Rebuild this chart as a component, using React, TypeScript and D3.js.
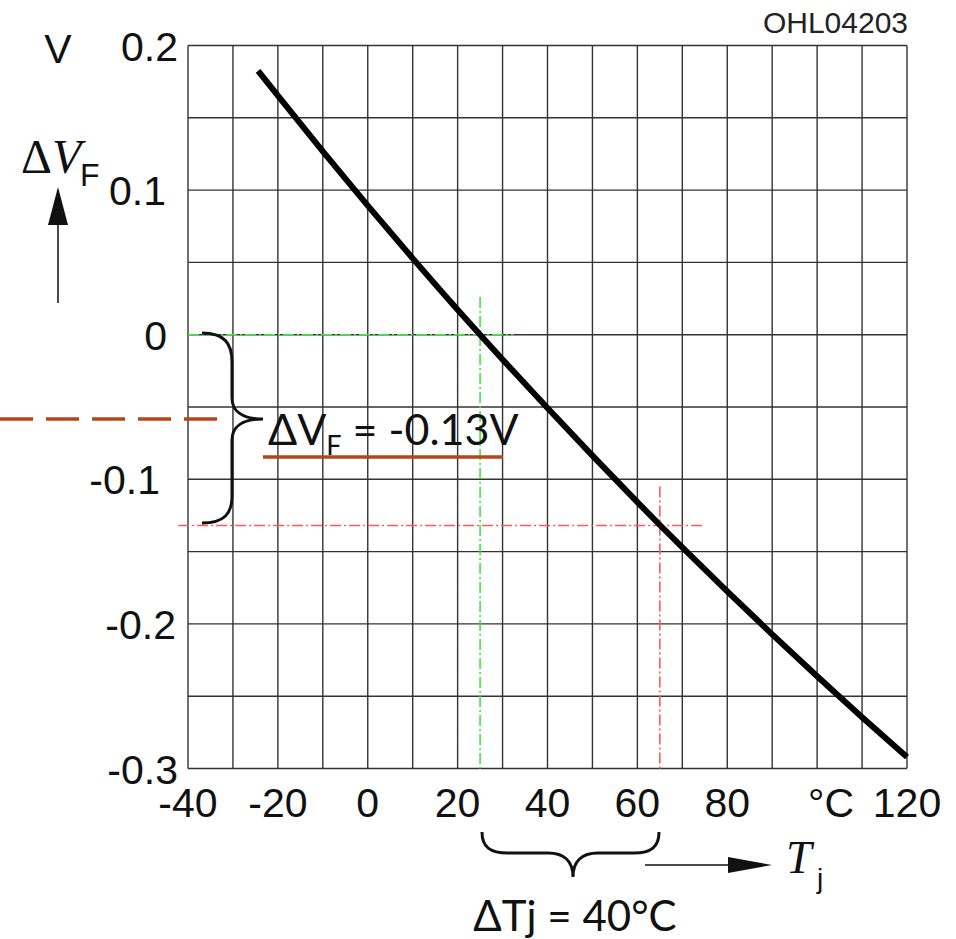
import React from "react";
import * as d3 from "d3";

// ---- data ----
const tempC = [-24.4, -20, -10, 0, 10, 20, 25, 30, 40, 50, 60, 65, 70, 80, 90, 100, 110, 120];
const deltaVF = [0.1825, 0.1653, 0.1268, 0.0893, 0.0528, 0.0173, 0, -0.0171, -0.0507, -0.0836, -0.1158, -0.1316, -0.1471, -0.1775, -0.2072, -0.2362, -0.2645, -0.2921];

const xTickValues = [-40, -20, 0, 20, 40, 60, 80, 100, 120];
const xTickLabels = ["-40", "-20", "0", "20", "40", "60", "80", "°C", "120"];
const yTickValues = [0.2, 0.1, 0, -0.1, -0.2, -0.3];
const yTickLabels = ["0.2", "0.1", "0", "-0.1", "-0.2", "-0.3"];
const gridTemps = [-40, -30, -20, -10, 0, 10, 20, 30, 40, 50, 60, 70, 80, 90, 100, 110, 120];
const gridVolts = [0.2, 0.15, 0.1, 0.05, 0, -0.05, -0.1, -0.15, -0.2, -0.25, -0.3];

const refTemps = [25, 65];
const refVolts = [0, -0.132];
const refColors = ["#3ee83e", "#ff5a5a"];

// ---- layout ----
const W = 956;
const H = 939;
const X0 = 188, X1 = 907, Y0 = 45.5, Y1 = 768.5;
const yLabelEnd: Record<string, number> = { "0.2": 178, "0.1": 166, "0": 167, "-0.1": 160, "-0.2": 176, "-0.3": 178 };
// extents of reference guide lines (data units)
const refHExtent = [[-40, 32.4], [-42.2, 74.7]];
const refVTop = [0.026, -0.105];

export default function App() {
  const x = d3.scaleLinear().domain([-40, 120]).range([X0, X1]);
  const y = d3.scaleLinear().domain([0.2, -0.3]).range([Y0, Y1]);
  const pts: [number, number][] = tempC.map((t, i) => [t, deltaVF[i]]);
  const line = d3
    .line<[number, number]>()
    .x((d) => x(d[0]))
    .y((d) => y(d[1]))
    .curve(d3.curveMonotoneX);

  const tickFont = "'Liberation Sans', Arial, sans-serif";
  const serif = "'Liberation Serif', 'Times New Roman', serif";
  const calib = "Lato, 'Open Sans', sans-serif";
  const brown = "#b5461c";

  return (
    <svg width={W} height={H} style={{ position: "absolute", left: 0, top: 0, background: "#fff" }}>
      <rect x={0} y={0} width={W} height={H} fill="#fff" />
      {/* grid */}
      <g stroke="#333" strokeWidth={1.4}>
        {gridTemps.map((t) => (
          <line key={"gx" + t} x1={x(t)} x2={x(t)} y1={Y0} y2={Y1} />
        ))}
        {gridVolts.map((v) => (
          <line key={"gy" + v} x1={X0} x2={X1} y1={y(v)} y2={y(v)} />
        ))}
      </g>

      {/* reference guide lines */}
      {refTemps.map((t, i) => (
        <g key={"ref" + i} stroke={refColors[i]} strokeWidth={1.6} strokeDasharray="11 3 2 3" fill="none">
          <line x1={x(refHExtent[i][0])} x2={x(refHExtent[i][1])} y1={y(refVolts[i])} y2={y(refVolts[i])} />
          <line x1={x(t)} x2={x(t)} y1={y(refVTop[i])} y2={Y1} />
        </g>
      ))}

      {/* curve */}
      <path d={line(pts) || ""} fill="none" stroke="#000" strokeWidth={6} strokeLinecap="butt" />

      {/* y tick labels */}
      {yTickValues.map((v, i) => (
        <text
          key={"yl" + v}
          x={yLabelEnd[yTickLabels[i]]}
          y={y(v) + 15}
          textAnchor="end"
          fontFamily={tickFont}
          fontSize={41}
          fill="#111"
        >
          {yTickLabels[i]}
        </text>
      ))}
      {/* x tick labels */}
      {xTickValues.map((t, i) => (
        <text
          key={"xl" + t}
          x={xTickLabels[i] === "°C" ? x(t) + 14 : x(t)}
          y={817}
          textAnchor="middle"
          fontFamily={tickFont}
          fontSize={41}
          fill="#111"
        >
          {xTickLabels[i]}
        </text>
      ))}

      {/* unit + code */}
      <text x={58} y={63} textAnchor="middle" fontFamily={tickFont} fontSize={41} fill="#111">V</text>
      <text x={908} y={33} textAnchor="end" fontFamily={tickFont} fontSize={30} fill="#222">OHL04203</text>

      {/* y axis title */}
      <text x={21} y={173} fontFamily={serif} fontSize={48} fill="#111">
        Δ<tspan fontStyle="italic">V</tspan>
      </text>
      <text x={80} y={186} fontFamily={tickFont} fontSize={32} fill="#111">F</text>
      <line x1={58} x2={58} y1={303} y2={222} stroke="#111" strokeWidth={1.5} />
      <path d="M 48 225 L 68 225 L 58 187 Z" fill="#111" />

      {/* x axis title */}
      <line x1={645} x2={735} y1={865} y2={865} stroke="#111" strokeWidth={1.5} />
      <path d="M 728 857 L 772 865 L 728 873 Z" fill="#111" />
      <text x={786} y={873} fontFamily={serif} fontStyle="italic" fontSize={46} fill="#111">T</text>
      <text x={817} y={888} fontFamily={tickFont} fontSize={28} fill="#111">j</text>

      {/* left brace + ΔVF annotation */}
      <path
        d="M 202 333 C 224 333, 232 343, 232 362 L 232 398 C 232 411, 242 419, 263 419 C 242 419, 232 427, 232 440 L 232 496 C 232 514, 224 523, 202 523"
        fill="none"
        stroke="#111"
        strokeWidth={3}
      />
      <line x1={0} x2={218} y1={419} y2={419} stroke={brown} strokeWidth={3.5} strokeDasharray="33 13" />
      <text x={268} y={445} fontFamily={calib} fontSize={43} fill="#111">
        ΔV<tspan fontSize={27} dy={10}>F</tspan>
        <tspan dy={-10}> = -0.13V</tspan>
      </text>
      <line x1={263} x2={503} y1={457} y2={457} stroke={brown} strokeWidth={3.5} />

      {/* bottom brace + ΔTj annotation */}
      <path
        d="M 482 832 C 482 847, 490 853, 508 853 L 548 853 C 564 853, 573 861, 573 877 C 573 861, 582 853, 598 853 L 634 853 C 651 853, 659 847, 659 832"
        fill="none"
        stroke="#111"
        strokeWidth={3}
      />
      <text x={575} y={931} textAnchor="middle" fontFamily={calib} fontSize={42} fill="#111">
        ΔTj = 40°C
      </text>
    </svg>
  );
}
